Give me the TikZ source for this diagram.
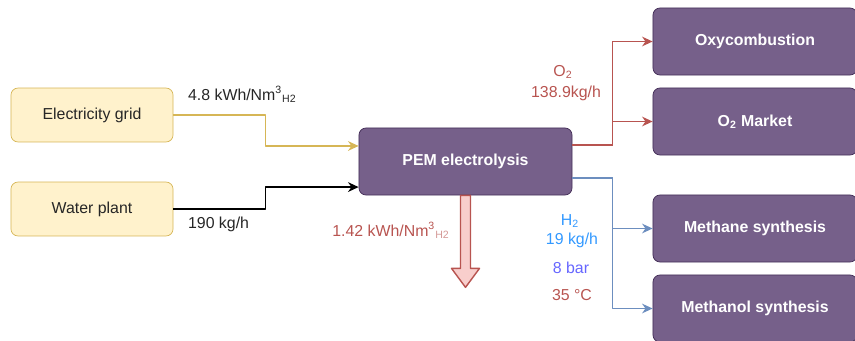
\documentclass[tikz,border=0pt]{standalone}
\usepackage{fontspec}
\setmainfont{Liberation Sans}
\usetikzlibrary{arrows.meta}
\definecolor{unitfill}{HTML}{76608A}
\definecolor{unitedge}{HTML}{432D57}
\definecolor{srcfill}{HTML}{FFF2CC}
\definecolor{srcedge}{HTML}{D6B656}
\definecolor{oxred}{HTML}{B85450}
\definecolor{hblue}{HTML}{6C8EBF}
\definecolor{lossfill}{HTML}{F8CECC}
\definecolor{hlabel}{HTML}{3399FF}
\definecolor{plabel}{HTML}{6666FF}
\tikzset{
  source/.style={draw=srcedge, fill=srcfill, rounded corners=4pt, minimum width=91.9pt, minimum height=30.6pt, text=black!85},
  unit/.style={draw=unitedge, fill=unitfill, rounded corners=4pt, text=white, font=\fontsize{9}{10.8}\selectfont\bfseries, minimum height=38pt},
  flowlab/.style={inner sep=1pt, text=black!85},
  flow/.style={line width=0.8pt, ->},
}
\begin{document}
\begin{tikzpicture}[x=0.567pt, y=-0.567pt, font=\fontsize{9}{10.8}\selectfont, line join=round, >={Stealth[length=6pt, width=5.5pt]}]
  \useasboundingbox (0,0) rectangle (855,340);
  % ============= sources
  \node[source] (grid) at (92,115) {Electricity grid};
  \node[source] (water) at (92,209) {Water plant};
  % ============= electrolyser
  \node[unit, minimum width=120.8pt] (pem) at (465.5,161.5) {PEM electrolysis};
  % ============= consumers
  \foreach \n/\y/\t in {oxy/41.5/Oxycombustion, market/121.5/O\textsubscript{2} Market,
      methane/228.5/Methane synthesis, methanol/308.5/Methanol synthesis}{
    \node[unit, minimum width=115.7pt] (\n) at (755,\y) {\t};
  }
  % ============= inputs
  \draw[flow, srcedge] (grid.east) -- ++(92,0) |- ([yshift=8.8pt]pem.west);
  \draw[flow, black] (water.east) -- ++(92,0) |- ([yshift=-14.5pt]pem.west);
  % ============= outputs
  \foreach \t in {oxy, market}{\draw[flow, oxred] ([yshift=9.4pt]pem.east) -- ++(40,0) |- (\t.west);}
  \foreach \t in {methane, methanol}{\draw[flow, hblue] ([yshift=-9.4pt]pem.east) -- ++(40,0) |- (\t.west);}
  % heat loss
  \draw[oxred, line width=0.8pt, fill=lossfill] (pem.south) ++(-5,0) -- ++(0,73) -- ++(-9,0) -- ++(14,19)
    -- ++(14,-19) -- ++(-9,0) -- ++(0,-73) -- cycle;
  % ============= labels
  \node[flowlab, anchor=west] (elab) at (186,94) {4.8 kWh/Nm\textsuperscript{3}\textsubscript{H2}};
  \node[flowlab, anchor=west] (wlab) at (186,224) {190 kg/h};
  \node[flowlab, text=oxred] (o2lab) at (563,72) {O\textsubscript{2}};
  \node[flowlab, text=oxred] (o2rate) at (566,93) {138.9kg/h};
  \node[flowlab, text=oxred] (losslab) at (391,230)
    {1.42 kWh/Nm\textsuperscript{3}\textsubscript{\color{oxred!60}\fontsize{6}{7}\selectfont H2}};
  \node[flowlab, text=hlabel] (h2lab) at (570,221) {H\textsubscript{2}};
  \node[flowlab, text=hlabel] (h2rate) at (572,240) {19 kg/h};
  \node[flowlab, text=plabel] (h2p) at (571,268) {8 bar};
  \node[flowlab, text=oxred] (h2t) at (572,295) {35 °C};
\end{tikzpicture}
\end{document}
